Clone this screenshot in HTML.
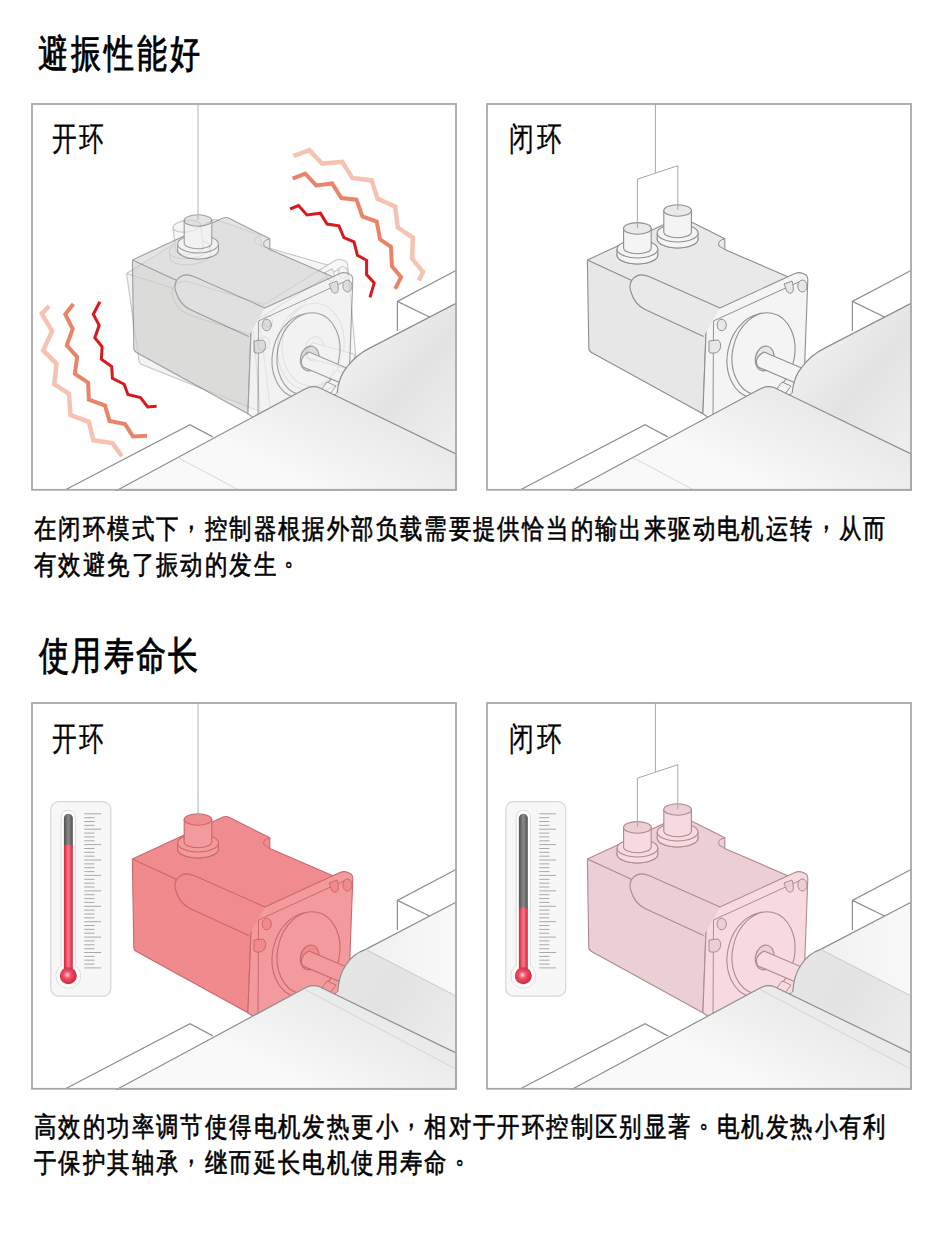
<!DOCTYPE html>
<html><head><meta charset="utf-8"><style>
html,body{margin:0;padding:0;background:#fff;width:951px;height:1243px;overflow:hidden;position:relative}
.t{position:absolute;font-family:"Liberation Sans",sans-serif;line-height:1;white-space:nowrap;color:#000;transform-origin:0 0}
svg{display:block}
</style></head><body>
<div class="t" style="left:38.0px;top:33.6px;font-size:39.2px;letter-spacing:3.7px;-webkit-text-stroke:0.9px #000;transform:scaleX(0.77)">避振性能好</div>
<div class="t" style="left:39.0px;top:637.3px;font-size:38.5px;letter-spacing:2.9px;-webkit-text-stroke:0.9px #000;transform:scaleX(0.77)">使用寿命长</div>
<svg style="position:absolute;left:31px;top:103px" width="426" height="388" viewBox="0 0 426 388"><defs>
<linearGradient id="gcyl" gradientUnits="userSpaceOnUse" x1="300" y1="250" x2="425" y2="330">
<stop offset="0" stop-color="#e6e6e6"/><stop offset="0.5" stop-color="#e3e3e3"/><stop offset="1" stop-color="#ececec"/></linearGradient>
<linearGradient id="gcyl2" gradientUnits="userSpaceOnUse" x1="335" y1="240" x2="425" y2="240">
<stop offset="0" stop-color="#f0f0f0"/><stop offset="1" stop-color="#f9f9f9"/></linearGradient>
<linearGradient id="gcyl3" gradientUnits="userSpaceOnUse" x1="310" y1="240" x2="425" y2="340">
<stop offset="0" stop-color="#f2f2f2"/><stop offset="0.5" stop-color="#e3e3e3"/><stop offset="1" stop-color="#eeeeee"/></linearGradient>
<linearGradient id="gcov" gradientUnits="userSpaceOnUse" x1="330" y1="300" x2="285" y2="388">
<stop offset="0" stop-color="#e9e9e9"/><stop offset="0.6" stop-color="#f2f2f2"/><stop offset="1" stop-color="#f9f9f9"/></linearGradient>
<linearGradient id="gtube" x1="0" y1="0" x2="1" y2="0">
<stop offset="0" stop-color="#505050"/><stop offset="0.5" stop-color="#8a8a8a"/><stop offset="1" stop-color="#505050"/></linearGradient>
<linearGradient id="gred" x1="0" y1="0" x2="1" y2="0">
<stop offset="0" stop-color="#d8203c"/><stop offset="0.5" stop-color="#f57a8a"/><stop offset="1" stop-color="#d8203c"/></linearGradient>
<radialGradient id="gbulb" cx="0.45" cy="0.45" r="0.6">
<stop offset="0" stop-color="#ffd0d8"/><stop offset="0.35" stop-color="#f0506a"/><stop offset="1" stop-color="#cc1f3a"/></radialGradient>
</defs>
<rect x="0" y="0" width="426" height="388" fill="#fff"/>
<path d="M34,387 L159,321.6 L181.8,333.9" fill="none" stroke="#8e8e8e" stroke-width="1.2"/>
<path d="M366.4,228 L366.4,198.4 L425,167.5" fill="none" stroke="#8e8e8e" stroke-width="1.2"/>
<path d="M366.4,198.4 L399,214.2" fill="none" stroke="#8e8e8e" stroke-width="1.2"/>
<path d="M399,214.2 L425,226" fill="none" stroke="#cfcfcf" stroke-width="1"/>
<g opacity="0.5" transform="translate(-24.7 27.5) rotate(-7.2)"><path d="M101.4,159 Q101.4,156.1 104,157.3 L220.6,212 L216.9,310.7 L105.5,249.5 Q102.8,248.1 102.8,245 Z" fill="#e9e9e9" stroke="#8f8f8f" stroke-width="1.1" stroke-linejoin="round"/>
<path d="M101.4,157 L192,115 Q195.1,113.8 198,115.2 L238.8,135.7 L238.8,146.6 L303.6,174.4 L220.6,212 Z" fill="#ededed" stroke="#8f8f8f" stroke-width="1.1" stroke-linejoin="round"/>
<path d="M238.8,136 Q231,137 233,143 L238.8,146.6" fill="none" stroke="#8f8f8f" stroke-width="0.9900000000000001"/>
<path d="M220.6,214 Q220.6,211 224,209.6 L309,170.5 Q313,168.8 317,170.5 L320,172 Q322,173.5 321.8,177 L317.7,287 L226,317 L216.9,310.7 Z" fill="#f3f3f3" stroke="#8f8f8f" stroke-width="1.1" stroke-linejoin="round"/>
<path d="M227,317 L227.5,218 L316,177.5" fill="none" stroke="#8f8f8f" stroke-width="0.9900000000000001"/>
<path d="M234,205 L163,173.6 C150,168 141,178 145,189 C147,196 152,203 159,206.4 L217.7,233.4" fill="#ededed" stroke="#8f8f8f" stroke-width="1.1"/>
<ellipse cx="316.4" cy="183" rx="4.6" ry="6" fill="#e9e9e9" stroke="#8f8f8f" stroke-width="0.9900000000000001"/>
<path d="M298,181 L306,178 Q309,188 305.5,190 Q301,191 300,186 Z" fill="#e9e9e9" stroke="#8f8f8f" stroke-width="0.9900000000000001"/>
<ellipse cx="235.7" cy="222" rx="4.6" ry="5.8" fill="#e9e9e9" stroke="#8f8f8f" stroke-width="0.9900000000000001"/>
<path d="M223,238 L232,237 Q236,240 234,246 Q232,251 225,250 L223,249 Z" fill="#e9e9e9" stroke="#8f8f8f" stroke-width="0.9900000000000001"/>
<ellipse cx="273.5" cy="253" rx="32" ry="42.6" transform="rotate(12 273.5 253)" fill="#f3f3f3" stroke="#8f8f8f" stroke-width="1.1"/>
<ellipse cx="277.5" cy="251" rx="31" ry="41.6" transform="rotate(12 277.5 251)" fill="#f3f3f3" stroke="#8f8f8f" stroke-width="1.1"/>
<ellipse cx="278.7" cy="255.5" rx="9.3" ry="12.5" transform="rotate(12 278.7 255.5)" fill="#e9e9e9" stroke="#8f8f8f" stroke-width="1.1"/>
<path d="M278,249 L318,266 L312,281 L272,264 Q267,255 278,249 Z" fill="#f3f3f3" stroke="#8f8f8f" stroke-width="1.1"/>
<path d="M296,279 L305,283 L299,291 L290,287 Z" fill="#f3f3f3" stroke="#8f8f8f" stroke-width="0.9900000000000001"/>
<ellipse cx="167" cy="147" rx="20.4" ry="9" fill="#ededed" stroke="#8f8f8f" stroke-width="1.1"/>
<path d="M146.6,141 L146.6,147 A20.4,9 0 0 0 187.4,147 L187.4,141 Z" fill="#f3f3f3" stroke="none"/>
<path d="M146.6,141 L146.6,147 A20.4,9 0 0 0 187.4,147 L187.4,141" fill="none" stroke="#8f8f8f" stroke-width="1.1"/>
<ellipse cx="167" cy="141" rx="20.4" ry="9" fill="#f3f3f3" stroke="#8f8f8f" stroke-width="1.1"/>
<path d="M153.2,117.5 L153.2,140 A13.8,5.8 0 0 0 180.8,140 L180.8,117.5 Z" fill="#f3f3f3" stroke="#8f8f8f" stroke-width="1.1"/>
<ellipse cx="167" cy="117.5" rx="13.8" ry="5.8" fill="#ededed" stroke="#8f8f8f" stroke-width="1.1"/></g>
<g opacity="0.65"><path d="M101.4,159 Q101.4,156.1 104,157.3 L220.6,212 L216.9,310.7 L105.5,249.5 Q102.8,248.1 102.8,245 Z" fill="#cfcfcd" stroke="#6f6f6f" stroke-width="1.1" stroke-linejoin="round"/>
<path d="M101.4,157 L192,115 Q195.1,113.8 198,115.2 L238.8,135.7 L238.8,146.6 L303.6,174.4 L220.6,212 Z" fill="#d6d6d6" stroke="#6f6f6f" stroke-width="1.1" stroke-linejoin="round"/>
<path d="M238.8,136 Q231,137 233,143 L238.8,146.6" fill="none" stroke="#6f6f6f" stroke-width="0.9900000000000001"/>
<path d="M220.6,214 Q220.6,211 224,209.6 L309,170.5 Q313,168.8 317,170.5 L320,172 Q322,173.5 321.8,177 L317.7,287 L226,317 L216.9,310.7 Z" fill="#f0f0f0" stroke="#6f6f6f" stroke-width="1.1" stroke-linejoin="round"/>
<path d="M227,317 L227.5,218 L316,177.5" fill="none" stroke="#6f6f6f" stroke-width="0.9900000000000001"/>
<path d="M234,205 L163,173.6 C150,168 141,178 145,189 C147,196 152,203 159,206.4 L217.7,233.4" fill="#d6d6d6" stroke="#6f6f6f" stroke-width="1.1"/>
<ellipse cx="316.4" cy="183" rx="4.6" ry="6" fill="#cfcfcd" stroke="#6f6f6f" stroke-width="0.9900000000000001"/>
<path d="M298,181 L306,178 Q309,188 305.5,190 Q301,191 300,186 Z" fill="#cfcfcd" stroke="#6f6f6f" stroke-width="0.9900000000000001"/>
<ellipse cx="235.7" cy="222" rx="4.6" ry="5.8" fill="#cfcfcd" stroke="#6f6f6f" stroke-width="0.9900000000000001"/>
<path d="M223,238 L232,237 Q236,240 234,246 Q232,251 225,250 L223,249 Z" fill="#cfcfcd" stroke="#6f6f6f" stroke-width="0.9900000000000001"/>
<ellipse cx="273.5" cy="253" rx="32" ry="42.6" transform="rotate(12 273.5 253)" fill="#f0f0f0" stroke="#6f6f6f" stroke-width="1.1"/>
<ellipse cx="277.5" cy="251" rx="31" ry="41.6" transform="rotate(12 277.5 251)" fill="#f0f0f0" stroke="#6f6f6f" stroke-width="1.1"/>
<ellipse cx="278.7" cy="255.5" rx="9.3" ry="12.5" transform="rotate(12 278.7 255.5)" fill="#cfcfcd" stroke="#6f6f6f" stroke-width="1.1"/>
<path d="M278,249 L318,266 L312,281 L272,264 Q267,255 278,249 Z" fill="#f0f0f0" stroke="#6f6f6f" stroke-width="1.1"/>
<path d="M296,279 L305,283 L299,291 L290,287 Z" fill="#f0f0f0" stroke="#6f6f6f" stroke-width="0.9900000000000001"/>
<ellipse cx="167" cy="147" rx="20.4" ry="9" fill="#d6d6d6" stroke="#6f6f6f" stroke-width="1.1"/>
<path d="M146.6,141 L146.6,147 A20.4,9 0 0 0 187.4,147 L187.4,141 Z" fill="#f0f0f0" stroke="none"/>
<path d="M146.6,141 L146.6,147 A20.4,9 0 0 0 187.4,147 L187.4,141" fill="none" stroke="#6f6f6f" stroke-width="1.1"/>
<ellipse cx="167" cy="141" rx="20.4" ry="9" fill="#f0f0f0" stroke="#6f6f6f" stroke-width="1.1"/>
<path d="M153.2,117.5 L153.2,140 A13.8,5.8 0 0 0 180.8,140 L180.8,117.5 Z" fill="#f0f0f0" stroke="#6f6f6f" stroke-width="1.1"/>
<ellipse cx="167" cy="117.5" rx="13.8" ry="5.8" fill="#d6d6d6" stroke="#6f6f6f" stroke-width="1.1"/></g>
<path d="M167,0 L167,117" fill="none" stroke="#b4b4b4" stroke-width="1"/>
<path d="M300,298 L306.1,290.2 C307,280 310,271 316,264 C322,256 330,249.5 338.2,245.4 L425,200.4 L425,360 Z" fill="url(#gcyl3)" stroke="none"/>
<path d="M306.1,290.2 C307,280 310,271 316,264 C322,256 330,249.5 338.2,245.4 L425,200.4" fill="none" stroke="#8e8e8e" stroke-width="1.2"/>
<path d="M84.7,388 L274,286 C279,283.3 284,283 289,285 L425,351 L425,388 Z" fill="url(#gcov)" stroke="#8e8e8e" stroke-width="1.2"/>
<path d="M147.6,354.9 L207.8,387" fill="none" stroke="#d8d8d8" stroke-width="1"/>
<path d="M262.5,53.0 L278.4,47.1 L291.1,60.6 L311.2,58.9 L321.3,74.9 L340.7,77.4 L346.6,95.9 L364.2,103.5 L366.8,124.5 L381.9,134.6 L381.1,155.6 L392.0,169.1 L387.8,177.5" fill="none" stroke="#f6c2b2" stroke-width="4.5" stroke-linejoin="miter" stroke-linecap="butt"/>
<path d="M261.6,75.7 L274.2,70.6 L285.2,82.4 L301.2,80.4 L310.4,95.0 L325.5,96.7 L331.4,113.5 L345.7,118.6 L349.1,136.3 L360.0,143.8 L360.9,163.2 L370.1,174.1 L364.2,185.9" fill="none" stroke="#ea8468" stroke-width="4" stroke-linejoin="miter" stroke-linecap="butt"/>
<path d="M259.1,106.0 L267.5,102.6 L275.9,111.9 L289.4,110.2 L296.1,121.1 L307.9,122.8 L312.9,134.6 L323.0,138.8 L326.4,152.2 L335.6,157.3 L335.6,171.6 L343.2,180.0 L339.0,194.3" fill="none" stroke="#d71a1f" stroke-width="3" stroke-linejoin="miter" stroke-linecap="butt"/>
<path d="M18.1,203.2 L10.8,210.6 L21.1,228.2 L12.2,247.4 L25.5,260.6 L23.3,281.2 L38.0,290.8 L39.5,312.1 L57.9,318.8 L62.3,337.2 L81.4,340.1 L91.0,353.3" fill="none" stroke="#f6c2b2" stroke-width="4.5" stroke-linejoin="miter" stroke-linecap="butt"/>
<path d="M42.4,201.0 L34.3,211.3 L41.7,226.0 L35.8,242.2 L46.1,254.0 L43.9,270.9 L57.1,279.7 L57.9,296.7 L74.1,302.6 L78.5,318.0 L94.0,321.0 L102.0,333.5 L116.0,332.7" fill="none" stroke="#ea8468" stroke-width="4" stroke-linejoin="miter" stroke-linecap="butt"/>
<path d="M68.9,198.8 L62.3,211.3 L68.2,222.3 L63.8,234.8 L71.1,243.7 L70.4,256.2 L80.7,263.5 L81.4,275.3 L93.2,281.2 L96.9,291.5 L109.4,294.5 L116.8,304.0 L125.6,303.3" fill="none" stroke="#d71a1f" stroke-width="3" stroke-linejoin="miter" stroke-linecap="butt"/>
<rect x="1" y="1" width="424" height="385.8" fill="none" stroke="#a8a8a8" stroke-width="1.8"/></svg>
<svg style="position:absolute;left:486px;top:103px" width="426" height="388" viewBox="0 0 426 388"><defs>
<linearGradient id="gcyl" gradientUnits="userSpaceOnUse" x1="300" y1="250" x2="425" y2="330">
<stop offset="0" stop-color="#e6e6e6"/><stop offset="0.5" stop-color="#e3e3e3"/><stop offset="1" stop-color="#ececec"/></linearGradient>
<linearGradient id="gcyl2" gradientUnits="userSpaceOnUse" x1="335" y1="240" x2="425" y2="240">
<stop offset="0" stop-color="#f0f0f0"/><stop offset="1" stop-color="#f9f9f9"/></linearGradient>
<linearGradient id="gcyl3" gradientUnits="userSpaceOnUse" x1="310" y1="240" x2="425" y2="340">
<stop offset="0" stop-color="#f2f2f2"/><stop offset="0.5" stop-color="#e3e3e3"/><stop offset="1" stop-color="#eeeeee"/></linearGradient>
<linearGradient id="gcov" gradientUnits="userSpaceOnUse" x1="330" y1="300" x2="285" y2="388">
<stop offset="0" stop-color="#e9e9e9"/><stop offset="0.6" stop-color="#f2f2f2"/><stop offset="1" stop-color="#f9f9f9"/></linearGradient>
<linearGradient id="gtube" x1="0" y1="0" x2="1" y2="0">
<stop offset="0" stop-color="#505050"/><stop offset="0.5" stop-color="#8a8a8a"/><stop offset="1" stop-color="#505050"/></linearGradient>
<linearGradient id="gred" x1="0" y1="0" x2="1" y2="0">
<stop offset="0" stop-color="#d8203c"/><stop offset="0.5" stop-color="#f57a8a"/><stop offset="1" stop-color="#d8203c"/></linearGradient>
<radialGradient id="gbulb" cx="0.45" cy="0.45" r="0.6">
<stop offset="0" stop-color="#ffd0d8"/><stop offset="0.35" stop-color="#f0506a"/><stop offset="1" stop-color="#cc1f3a"/></radialGradient>
</defs>
<rect x="0" y="0" width="426" height="388" fill="#fff"/>
<path d="M34,387 L159,321.6 L181.8,333.9" fill="none" stroke="#8e8e8e" stroke-width="1.2"/>
<path d="M366.4,228 L366.4,198.4 L425,167.5" fill="none" stroke="#8e8e8e" stroke-width="1.2"/>
<path d="M366.4,198.4 L399,214.2" fill="none" stroke="#8e8e8e" stroke-width="1.2"/>
<path d="M399,214.2 L425,226" fill="none" stroke="#cfcfcf" stroke-width="1"/>
<path d="M101.4,159 Q101.4,156.1 104,157.3 L220.6,212 L216.9,310.7 L105.5,249.5 Q102.8,248.1 102.8,245 Z" fill="#e7e7e7" stroke="#8e8e8e" stroke-width="1.1" stroke-linejoin="round"/>
<path d="M101.4,157 L192,115 Q195.1,113.8 198,115.2 L238.8,135.7 L238.8,146.6 L303.6,174.4 L220.6,212 Z" fill="#e9e9e9" stroke="#8e8e8e" stroke-width="1.1" stroke-linejoin="round"/>
<path d="M238.8,136 Q231,137 233,143 L238.8,146.6" fill="none" stroke="#8e8e8e" stroke-width="0.9900000000000001"/>
<path d="M220.6,214 Q220.6,211 224,209.6 L309,170.5 Q313,168.8 317,170.5 L320,172 Q322,173.5 321.8,177 L317.7,287 L226,317 L216.9,310.7 Z" fill="#f4f4f4" stroke="#8e8e8e" stroke-width="1.1" stroke-linejoin="round"/>
<path d="M227,317 L227.5,218 L316,177.5" fill="none" stroke="#8e8e8e" stroke-width="0.9900000000000001"/>
<path d="M234,205 L163,173.6 C150,168 141,178 145,189 C147,196 152,203 159,206.4 L217.7,233.4" fill="#e9e9e9" stroke="#8e8e8e" stroke-width="1.1"/>
<ellipse cx="316.4" cy="183" rx="4.6" ry="6" fill="#e7e7e7" stroke="#8e8e8e" stroke-width="0.9900000000000001"/>
<path d="M298,181 L306,178 Q309,188 305.5,190 Q301,191 300,186 Z" fill="#e7e7e7" stroke="#8e8e8e" stroke-width="0.9900000000000001"/>
<ellipse cx="235.7" cy="222" rx="4.6" ry="5.8" fill="#e7e7e7" stroke="#8e8e8e" stroke-width="0.9900000000000001"/>
<path d="M223,238 L232,237 Q236,240 234,246 Q232,251 225,250 L223,249 Z" fill="#e7e7e7" stroke="#8e8e8e" stroke-width="0.9900000000000001"/>
<ellipse cx="273.5" cy="253" rx="32" ry="42.6" transform="rotate(12 273.5 253)" fill="#f4f4f4" stroke="#8e8e8e" stroke-width="1.1"/>
<ellipse cx="277.5" cy="251" rx="31" ry="41.6" transform="rotate(12 277.5 251)" fill="#f4f4f4" stroke="#8e8e8e" stroke-width="1.1"/>
<ellipse cx="278.7" cy="255.5" rx="9.3" ry="12.5" transform="rotate(12 278.7 255.5)" fill="#e7e7e7" stroke="#8e8e8e" stroke-width="1.1"/>
<path d="M278,249 L318,266 L312,281 L272,264 Q267,255 278,249 Z" fill="#f4f4f4" stroke="#8e8e8e" stroke-width="1.1"/>
<path d="M296,279 L305,283 L299,291 L290,287 Z" fill="#f4f4f4" stroke="#8e8e8e" stroke-width="0.9900000000000001"/>
<ellipse cx="151.4" cy="152" rx="20.4" ry="9" fill="#e9e9e9" stroke="#8e8e8e" stroke-width="1.1"/>
<path d="M131.0,146 L131.0,152 A20.4,9 0 0 0 171.8,152 L171.8,146 Z" fill="#f4f4f4" stroke="none"/>
<path d="M131.0,146 L131.0,152 A20.4,9 0 0 0 171.8,152 L171.8,146" fill="none" stroke="#8e8e8e" stroke-width="1.1"/>
<ellipse cx="151.4" cy="146" rx="20.4" ry="9" fill="#f4f4f4" stroke="#8e8e8e" stroke-width="1.1"/>
<path d="M137.6,125.4 L137.6,145 A13.8,5.8 0 0 0 165.20000000000002,145 L165.20000000000002,125.4 Z" fill="#f4f4f4" stroke="#8e8e8e" stroke-width="1.1"/>
<ellipse cx="151.4" cy="125.4" rx="13.8" ry="5.8" fill="#e9e9e9" stroke="#8e8e8e" stroke-width="1.1"/>
<ellipse cx="191.6" cy="136" rx="20.4" ry="9" fill="#e9e9e9" stroke="#8e8e8e" stroke-width="1.1"/>
<path d="M171.2,130 L171.2,136 A20.4,9 0 0 0 212.0,136 L212.0,130 Z" fill="#f4f4f4" stroke="none"/>
<path d="M171.2,130 L171.2,136 A20.4,9 0 0 0 212.0,136 L212.0,130" fill="none" stroke="#8e8e8e" stroke-width="1.1"/>
<ellipse cx="191.6" cy="130" rx="20.4" ry="9" fill="#f4f4f4" stroke="#8e8e8e" stroke-width="1.1"/>
<path d="M177.79999999999998,107.5 L177.79999999999998,129 A13.8,5.8 0 0 0 205.4,129 L205.4,107.5 Z" fill="#f4f4f4" stroke="#8e8e8e" stroke-width="1.1"/>
<ellipse cx="191.6" cy="107.5" rx="13.8" ry="5.8" fill="#e9e9e9" stroke="#8e8e8e" stroke-width="1.1"/>
<path d="M169.4,0 L169.4,70 M151.4,125 L151.4,76.2 L191.8,62.7 L191.8,107" fill="none" stroke="#a8a8a8" stroke-width="1"/>
<path d="M300,298 L306.1,290.2 C307,280 310,271 316,264 C322,256 330,249.5 338.2,245.4 L425,200.4 L425,360 Z" fill="url(#gcyl3)" stroke="none"/>
<path d="M306.1,290.2 C307,280 310,271 316,264 C322,256 330,249.5 338.2,245.4 L425,200.4" fill="none" stroke="#8e8e8e" stroke-width="1.2"/>
<path d="M84.7,388 L274,286 C279,283.3 284,283 289,285 L425,351 L425,388 Z" fill="url(#gcov)" stroke="#8e8e8e" stroke-width="1.2"/>
<path d="M147.6,354.9 L207.8,387" fill="none" stroke="#d8d8d8" stroke-width="1"/>
<rect x="1" y="1" width="424" height="385.8" fill="none" stroke="#a8a8a8" stroke-width="1.8"/></svg>
<svg style="position:absolute;left:31px;top:702px" width="426" height="388" viewBox="0 0 426 388"><defs>
<linearGradient id="gcyl" gradientUnits="userSpaceOnUse" x1="300" y1="250" x2="425" y2="330">
<stop offset="0" stop-color="#e6e6e6"/><stop offset="0.5" stop-color="#e3e3e3"/><stop offset="1" stop-color="#ececec"/></linearGradient>
<linearGradient id="gcyl2" gradientUnits="userSpaceOnUse" x1="335" y1="240" x2="425" y2="240">
<stop offset="0" stop-color="#f0f0f0"/><stop offset="1" stop-color="#f9f9f9"/></linearGradient>
<linearGradient id="gcyl3" gradientUnits="userSpaceOnUse" x1="310" y1="240" x2="425" y2="340">
<stop offset="0" stop-color="#f2f2f2"/><stop offset="0.5" stop-color="#e3e3e3"/><stop offset="1" stop-color="#eeeeee"/></linearGradient>
<linearGradient id="gcov" gradientUnits="userSpaceOnUse" x1="330" y1="300" x2="285" y2="388">
<stop offset="0" stop-color="#e9e9e9"/><stop offset="0.6" stop-color="#f2f2f2"/><stop offset="1" stop-color="#f9f9f9"/></linearGradient>
<linearGradient id="gtube" x1="0" y1="0" x2="1" y2="0">
<stop offset="0" stop-color="#505050"/><stop offset="0.5" stop-color="#8a8a8a"/><stop offset="1" stop-color="#505050"/></linearGradient>
<linearGradient id="gred" x1="0" y1="0" x2="1" y2="0">
<stop offset="0" stop-color="#d8203c"/><stop offset="0.5" stop-color="#f57a8a"/><stop offset="1" stop-color="#d8203c"/></linearGradient>
<radialGradient id="gbulb" cx="0.45" cy="0.45" r="0.6">
<stop offset="0" stop-color="#ffd0d8"/><stop offset="0.35" stop-color="#f0506a"/><stop offset="1" stop-color="#cc1f3a"/></radialGradient>
</defs>
<rect x="0" y="0" width="426" height="388" fill="#fff"/>
<path d="M34,387 L159,321.6 L181.8,333.9" fill="none" stroke="#8e8e8e" stroke-width="1.2"/>
<path d="M366.4,228 L366.4,198.4 L425,167.5" fill="none" stroke="#8e8e8e" stroke-width="1.2"/>
<path d="M366.4,198.4 L399,214.2" fill="none" stroke="#8e8e8e" stroke-width="1.2"/>
<path d="M399,214.2 L425,226" fill="none" stroke="#cfcfcf" stroke-width="1"/>
<path d="M101.4,159 Q101.4,156.1 104,157.3 L220.6,212 L216.9,310.7 L105.5,249.5 Q102.8,248.1 102.8,245 Z" fill="#f08a8c" stroke="#c9686c" stroke-width="1.1" stroke-linejoin="round"/>
<path d="M101.4,157 L192,115 Q195.1,113.8 198,115.2 L238.8,135.7 L238.8,146.6 L303.6,174.4 L220.6,212 Z" fill="#f08c8f" stroke="#c9686c" stroke-width="1.1" stroke-linejoin="round"/>
<path d="M238.8,136 Q231,137 233,143 L238.8,146.6" fill="none" stroke="#c9686c" stroke-width="0.9900000000000001"/>
<path d="M220.6,214 Q220.6,211 224,209.6 L309,170.5 Q313,168.8 317,170.5 L320,172 Q322,173.5 321.8,177 L317.7,287 L226,317 L216.9,310.7 Z" fill="#f39a9d" stroke="#c9686c" stroke-width="1.1" stroke-linejoin="round"/>
<path d="M227,317 L227.5,218 L316,177.5" fill="none" stroke="#c9686c" stroke-width="0.9900000000000001"/>
<path d="M234,205 L163,173.6 C150,168 141,178 145,189 C147,196 152,203 159,206.4 L217.7,233.4" fill="#f08c8f" stroke="#c9686c" stroke-width="1.1"/>
<ellipse cx="316.4" cy="183" rx="4.6" ry="6" fill="#f08a8c" stroke="#c9686c" stroke-width="0.9900000000000001"/>
<path d="M298,181 L306,178 Q309,188 305.5,190 Q301,191 300,186 Z" fill="#f08a8c" stroke="#c9686c" stroke-width="0.9900000000000001"/>
<ellipse cx="235.7" cy="222" rx="4.6" ry="5.8" fill="#f08a8c" stroke="#c9686c" stroke-width="0.9900000000000001"/>
<path d="M223,238 L232,237 Q236,240 234,246 Q232,251 225,250 L223,249 Z" fill="#f08a8c" stroke="#c9686c" stroke-width="0.9900000000000001"/>
<ellipse cx="273.5" cy="253" rx="32" ry="42.6" transform="rotate(12 273.5 253)" fill="#f39a9d" stroke="#c9686c" stroke-width="1.1"/>
<ellipse cx="277.5" cy="251" rx="31" ry="41.6" transform="rotate(12 277.5 251)" fill="#f39a9d" stroke="#c9686c" stroke-width="1.1"/>
<ellipse cx="278.7" cy="255.5" rx="9.3" ry="12.5" transform="rotate(12 278.7 255.5)" fill="#f08a8c" stroke="#c9686c" stroke-width="1.1"/>
<path d="M278,249 L318,266 L312,281 L272,264 Q267,255 278,249 Z" fill="#f39a9d" stroke="#c9686c" stroke-width="1.1"/>
<path d="M296,279 L305,283 L299,291 L290,287 Z" fill="#f39a9d" stroke="#c9686c" stroke-width="0.9900000000000001"/>
<ellipse cx="167" cy="147" rx="20.4" ry="9" fill="#f08c8f" stroke="#c9686c" stroke-width="1.1"/>
<path d="M146.6,141 L146.6,147 A20.4,9 0 0 0 187.4,147 L187.4,141 Z" fill="#f39a9d" stroke="none"/>
<path d="M146.6,141 L146.6,147 A20.4,9 0 0 0 187.4,147 L187.4,141" fill="none" stroke="#c9686c" stroke-width="1.1"/>
<ellipse cx="167" cy="141" rx="20.4" ry="9" fill="#f39a9d" stroke="#c9686c" stroke-width="1.1"/>
<path d="M153.2,117.5 L153.2,140 A13.8,5.8 0 0 0 180.8,140 L180.8,117.5 Z" fill="#f39a9d" stroke="#c9686c" stroke-width="1.1"/>
<ellipse cx="167" cy="117.5" rx="13.8" ry="5.8" fill="#f08c8f" stroke="#c9686c" stroke-width="1.1"/>
<path d="M167,0 L167,117" fill="none" stroke="#b4b4b4" stroke-width="1"/>
<path d="M300,298 L306.7,290 C307.5,279 310,270 315,263 C320,255 327,250 334.7,247.4 L425,200.2 L425,360 Z" fill="url(#gcyl)" stroke="none"/>
<path d="M334.7,247.4 L425,200.2 L425,294.5 Z" fill="url(#gcyl2)" stroke="none"/>
<path d="M306.7,290 C307.5,279 310,270 315,263 C320,255 327,250 334.7,247.4 L425,200.2" fill="none" stroke="#8e8e8e" stroke-width="1.2"/>
<path d="M334.7,247.4 L425,294" fill="none" stroke="#c8c8c8" stroke-width="1"/>
<path d="M84.7,388 L274,286 C279,283.3 284,283 289,285 L425,351 L425,388 Z" fill="url(#gcov)" stroke="#8e8e8e" stroke-width="1.2"/>
<path d="M274,287.5 L425,367" fill="none" stroke="#d4d4d4" stroke-width="1"/>
<rect x="19.8" y="99.6" width="60" height="194.6" rx="8" fill="#f7f7f7" stroke="#d6d6d6" stroke-width="1.2"/>
<rect x="30.2" y="108.2" width="14.2" height="165" rx="7.1" fill="#fff" stroke="#d4d4d4" stroke-width="0.8"/>
<circle cx="37.3" cy="273.8" r="12.4" fill="#fff" stroke="#d4d4d4" stroke-width="0.8"/>
<rect x="31" y="258" width="12.6" height="10" fill="#fff"/>
<rect x="32.9" y="111.8" width="8.9" height="35.000000000000014" rx="4.45" fill="url(#gtube)"/>
<rect x="32.9" y="142.8" width="8.9" height="131.0" fill="url(#gred)"/>
<circle cx="37.3" cy="273.8" r="8.5" fill="url(#gbulb)"/>
<line x1="53.3" y1="111.8" x2="70.1" y2="111.8" stroke="#a8a8a8" stroke-width="1"/>
<line x1="53.3" y1="115.7" x2="63.5" y2="115.7" stroke="#a8a8a8" stroke-width="1"/>
<line x1="53.3" y1="119.5" x2="63.5" y2="119.5" stroke="#a8a8a8" stroke-width="1"/>
<line x1="53.3" y1="123.4" x2="63.5" y2="123.4" stroke="#a8a8a8" stroke-width="1"/>
<line x1="53.3" y1="127.2" x2="70.1" y2="127.2" stroke="#a8a8a8" stroke-width="1"/>
<line x1="53.3" y1="131.1" x2="63.5" y2="131.1" stroke="#a8a8a8" stroke-width="1"/>
<line x1="53.3" y1="134.9" x2="63.5" y2="134.9" stroke="#a8a8a8" stroke-width="1"/>
<line x1="53.3" y1="138.8" x2="63.5" y2="138.8" stroke="#a8a8a8" stroke-width="1"/>
<line x1="53.3" y1="142.6" x2="70.1" y2="142.6" stroke="#a8a8a8" stroke-width="1"/>
<line x1="53.3" y1="146.5" x2="63.5" y2="146.5" stroke="#a8a8a8" stroke-width="1"/>
<line x1="53.3" y1="150.3" x2="63.5" y2="150.3" stroke="#a8a8a8" stroke-width="1"/>
<line x1="53.3" y1="154.2" x2="63.5" y2="154.2" stroke="#a8a8a8" stroke-width="1"/>
<line x1="53.3" y1="158.0" x2="70.1" y2="158.0" stroke="#a8a8a8" stroke-width="1"/>
<line x1="53.3" y1="161.9" x2="63.5" y2="161.9" stroke="#a8a8a8" stroke-width="1"/>
<line x1="53.3" y1="165.7" x2="63.5" y2="165.7" stroke="#a8a8a8" stroke-width="1"/>
<line x1="53.3" y1="169.6" x2="63.5" y2="169.6" stroke="#a8a8a8" stroke-width="1"/>
<line x1="53.3" y1="173.4" x2="70.1" y2="173.4" stroke="#a8a8a8" stroke-width="1"/>
<line x1="53.3" y1="177.3" x2="63.5" y2="177.3" stroke="#a8a8a8" stroke-width="1"/>
<line x1="53.3" y1="181.2" x2="63.5" y2="181.2" stroke="#a8a8a8" stroke-width="1"/>
<line x1="53.3" y1="185.0" x2="63.5" y2="185.0" stroke="#a8a8a8" stroke-width="1"/>
<line x1="53.3" y1="188.9" x2="70.1" y2="188.9" stroke="#a8a8a8" stroke-width="1"/>
<line x1="53.3" y1="192.7" x2="63.5" y2="192.7" stroke="#a8a8a8" stroke-width="1"/>
<line x1="53.3" y1="196.6" x2="63.5" y2="196.6" stroke="#a8a8a8" stroke-width="1"/>
<line x1="53.3" y1="200.4" x2="63.5" y2="200.4" stroke="#a8a8a8" stroke-width="1"/>
<line x1="53.3" y1="204.3" x2="70.1" y2="204.3" stroke="#a8a8a8" stroke-width="1"/>
<line x1="53.3" y1="208.1" x2="63.5" y2="208.1" stroke="#a8a8a8" stroke-width="1"/>
<line x1="53.3" y1="212.0" x2="63.5" y2="212.0" stroke="#a8a8a8" stroke-width="1"/>
<line x1="53.3" y1="215.8" x2="63.5" y2="215.8" stroke="#a8a8a8" stroke-width="1"/>
<line x1="53.3" y1="219.7" x2="70.1" y2="219.7" stroke="#a8a8a8" stroke-width="1"/>
<line x1="53.3" y1="223.5" x2="63.5" y2="223.5" stroke="#a8a8a8" stroke-width="1"/>
<line x1="53.3" y1="227.4" x2="63.5" y2="227.4" stroke="#a8a8a8" stroke-width="1"/>
<line x1="53.3" y1="231.2" x2="63.5" y2="231.2" stroke="#a8a8a8" stroke-width="1"/>
<line x1="53.3" y1="235.1" x2="70.1" y2="235.1" stroke="#a8a8a8" stroke-width="1"/>
<line x1="53.3" y1="238.9" x2="63.5" y2="238.9" stroke="#a8a8a8" stroke-width="1"/>
<line x1="53.3" y1="242.8" x2="63.5" y2="242.8" stroke="#a8a8a8" stroke-width="1"/>
<line x1="53.3" y1="246.7" x2="63.5" y2="246.7" stroke="#a8a8a8" stroke-width="1"/>
<line x1="53.3" y1="250.5" x2="70.1" y2="250.5" stroke="#a8a8a8" stroke-width="1"/>
<line x1="53.3" y1="254.4" x2="63.5" y2="254.4" stroke="#a8a8a8" stroke-width="1"/>
<line x1="53.3" y1="258.2" x2="63.5" y2="258.2" stroke="#a8a8a8" stroke-width="1"/>
<line x1="53.3" y1="262.1" x2="63.5" y2="262.1" stroke="#a8a8a8" stroke-width="1"/>
<line x1="53.3" y1="265.9" x2="70.1" y2="265.9" stroke="#a8a8a8" stroke-width="1"/>
<rect x="1" y="1" width="424" height="385.8" fill="none" stroke="#a8a8a8" stroke-width="1.8"/></svg>
<svg style="position:absolute;left:486px;top:702px" width="426" height="388" viewBox="0 0 426 388"><defs>
<linearGradient id="gcyl" gradientUnits="userSpaceOnUse" x1="300" y1="250" x2="425" y2="330">
<stop offset="0" stop-color="#e6e6e6"/><stop offset="0.5" stop-color="#e3e3e3"/><stop offset="1" stop-color="#ececec"/></linearGradient>
<linearGradient id="gcyl2" gradientUnits="userSpaceOnUse" x1="335" y1="240" x2="425" y2="240">
<stop offset="0" stop-color="#f0f0f0"/><stop offset="1" stop-color="#f9f9f9"/></linearGradient>
<linearGradient id="gcyl3" gradientUnits="userSpaceOnUse" x1="310" y1="240" x2="425" y2="340">
<stop offset="0" stop-color="#f2f2f2"/><stop offset="0.5" stop-color="#e3e3e3"/><stop offset="1" stop-color="#eeeeee"/></linearGradient>
<linearGradient id="gcov" gradientUnits="userSpaceOnUse" x1="330" y1="300" x2="285" y2="388">
<stop offset="0" stop-color="#e9e9e9"/><stop offset="0.6" stop-color="#f2f2f2"/><stop offset="1" stop-color="#f9f9f9"/></linearGradient>
<linearGradient id="gtube" x1="0" y1="0" x2="1" y2="0">
<stop offset="0" stop-color="#505050"/><stop offset="0.5" stop-color="#8a8a8a"/><stop offset="1" stop-color="#505050"/></linearGradient>
<linearGradient id="gred" x1="0" y1="0" x2="1" y2="0">
<stop offset="0" stop-color="#d8203c"/><stop offset="0.5" stop-color="#f57a8a"/><stop offset="1" stop-color="#d8203c"/></linearGradient>
<radialGradient id="gbulb" cx="0.45" cy="0.45" r="0.6">
<stop offset="0" stop-color="#ffd0d8"/><stop offset="0.35" stop-color="#f0506a"/><stop offset="1" stop-color="#cc1f3a"/></radialGradient>
</defs>
<rect x="0" y="0" width="426" height="388" fill="#fff"/>
<path d="M34,387 L159,321.6 L181.8,333.9" fill="none" stroke="#8e8e8e" stroke-width="1.2"/>
<path d="M366.4,228 L366.4,198.4 L425,167.5" fill="none" stroke="#8e8e8e" stroke-width="1.2"/>
<path d="M366.4,198.4 L399,214.2" fill="none" stroke="#8e8e8e" stroke-width="1.2"/>
<path d="M399,214.2 L425,226" fill="none" stroke="#cfcfcf" stroke-width="1"/>
<path d="M101.4,159 Q101.4,156.1 104,157.3 L220.6,212 L216.9,310.7 L105.5,249.5 Q102.8,248.1 102.8,245 Z" fill="#eacfd4" stroke="#ad8a90" stroke-width="1.1" stroke-linejoin="round"/>
<path d="M101.4,157 L192,115 Q195.1,113.8 198,115.2 L238.8,135.7 L238.8,146.6 L303.6,174.4 L220.6,212 Z" fill="#eccfd4" stroke="#ad8a90" stroke-width="1.1" stroke-linejoin="round"/>
<path d="M238.8,136 Q231,137 233,143 L238.8,146.6" fill="none" stroke="#ad8a90" stroke-width="0.9900000000000001"/>
<path d="M220.6,214 Q220.6,211 224,209.6 L309,170.5 Q313,168.8 317,170.5 L320,172 Q322,173.5 321.8,177 L317.7,287 L226,317 L216.9,310.7 Z" fill="#f6dadf" stroke="#ad8a90" stroke-width="1.1" stroke-linejoin="round"/>
<path d="M227,317 L227.5,218 L316,177.5" fill="none" stroke="#ad8a90" stroke-width="0.9900000000000001"/>
<path d="M234,205 L163,173.6 C150,168 141,178 145,189 C147,196 152,203 159,206.4 L217.7,233.4" fill="#eccfd4" stroke="#ad8a90" stroke-width="1.1"/>
<ellipse cx="316.4" cy="183" rx="4.6" ry="6" fill="#eacfd4" stroke="#ad8a90" stroke-width="0.9900000000000001"/>
<path d="M298,181 L306,178 Q309,188 305.5,190 Q301,191 300,186 Z" fill="#eacfd4" stroke="#ad8a90" stroke-width="0.9900000000000001"/>
<ellipse cx="235.7" cy="222" rx="4.6" ry="5.8" fill="#eacfd4" stroke="#ad8a90" stroke-width="0.9900000000000001"/>
<path d="M223,238 L232,237 Q236,240 234,246 Q232,251 225,250 L223,249 Z" fill="#eacfd4" stroke="#ad8a90" stroke-width="0.9900000000000001"/>
<ellipse cx="273.5" cy="253" rx="32" ry="42.6" transform="rotate(12 273.5 253)" fill="#f6dadf" stroke="#ad8a90" stroke-width="1.1"/>
<ellipse cx="277.5" cy="251" rx="31" ry="41.6" transform="rotate(12 277.5 251)" fill="#f6dadf" stroke="#ad8a90" stroke-width="1.1"/>
<ellipse cx="278.7" cy="255.5" rx="9.3" ry="12.5" transform="rotate(12 278.7 255.5)" fill="#eacfd4" stroke="#ad8a90" stroke-width="1.1"/>
<path d="M278,249 L318,266 L312,281 L272,264 Q267,255 278,249 Z" fill="#f6dadf" stroke="#ad8a90" stroke-width="1.1"/>
<path d="M296,279 L305,283 L299,291 L290,287 Z" fill="#f6dadf" stroke="#ad8a90" stroke-width="0.9900000000000001"/>
<ellipse cx="151.4" cy="152" rx="20.4" ry="9" fill="#eccfd4" stroke="#ad8a90" stroke-width="1.1"/>
<path d="M131.0,146 L131.0,152 A20.4,9 0 0 0 171.8,152 L171.8,146 Z" fill="#f6dadf" stroke="none"/>
<path d="M131.0,146 L131.0,152 A20.4,9 0 0 0 171.8,152 L171.8,146" fill="none" stroke="#ad8a90" stroke-width="1.1"/>
<ellipse cx="151.4" cy="146" rx="20.4" ry="9" fill="#f6dadf" stroke="#ad8a90" stroke-width="1.1"/>
<path d="M137.6,125.4 L137.6,145 A13.8,5.8 0 0 0 165.20000000000002,145 L165.20000000000002,125.4 Z" fill="#f6dadf" stroke="#ad8a90" stroke-width="1.1"/>
<ellipse cx="151.4" cy="125.4" rx="13.8" ry="5.8" fill="#eccfd4" stroke="#ad8a90" stroke-width="1.1"/>
<ellipse cx="191.6" cy="136" rx="20.4" ry="9" fill="#eccfd4" stroke="#ad8a90" stroke-width="1.1"/>
<path d="M171.2,130 L171.2,136 A20.4,9 0 0 0 212.0,136 L212.0,130 Z" fill="#f6dadf" stroke="none"/>
<path d="M171.2,130 L171.2,136 A20.4,9 0 0 0 212.0,136 L212.0,130" fill="none" stroke="#ad8a90" stroke-width="1.1"/>
<ellipse cx="191.6" cy="130" rx="20.4" ry="9" fill="#f6dadf" stroke="#ad8a90" stroke-width="1.1"/>
<path d="M177.79999999999998,107.5 L177.79999999999998,129 A13.8,5.8 0 0 0 205.4,129 L205.4,107.5 Z" fill="#f6dadf" stroke="#ad8a90" stroke-width="1.1"/>
<ellipse cx="191.6" cy="107.5" rx="13.8" ry="5.8" fill="#eccfd4" stroke="#ad8a90" stroke-width="1.1"/>
<path d="M169.4,0 L169.4,70 M151.4,125 L151.4,76.2 L191.8,62.7 L191.8,107" fill="none" stroke="#a8a8a8" stroke-width="1"/>
<path d="M300,298 L306.7,290 C307.5,279 310,270 315,263 C320,255 327,250 334.7,247.4 L425,200.2 L425,360 Z" fill="url(#gcyl)" stroke="none"/>
<path d="M334.7,247.4 L425,200.2 L425,294.5 Z" fill="url(#gcyl2)" stroke="none"/>
<path d="M306.7,290 C307.5,279 310,270 315,263 C320,255 327,250 334.7,247.4 L425,200.2" fill="none" stroke="#8e8e8e" stroke-width="1.2"/>
<path d="M334.7,247.4 L425,294" fill="none" stroke="#c8c8c8" stroke-width="1"/>
<path d="M84.7,388 L274,286 C279,283.3 284,283 289,285 L425,351 L425,388 Z" fill="url(#gcov)" stroke="#8e8e8e" stroke-width="1.2"/>
<path d="M274,287.5 L425,367" fill="none" stroke="#d4d4d4" stroke-width="1"/>
<rect x="19.8" y="99.6" width="60" height="194.6" rx="8" fill="#f7f7f7" stroke="#d6d6d6" stroke-width="1.2"/>
<rect x="30.2" y="108.2" width="14.2" height="165" rx="7.1" fill="#fff" stroke="#d4d4d4" stroke-width="0.8"/>
<circle cx="37.3" cy="273.8" r="12.4" fill="#fff" stroke="#d4d4d4" stroke-width="0.8"/>
<rect x="31" y="258" width="12.6" height="10" fill="#fff"/>
<rect x="32.9" y="111.8" width="8.9" height="97.8" rx="4.45" fill="url(#gtube)"/>
<rect x="32.9" y="205.6" width="8.9" height="68.20000000000002" fill="url(#gred)"/>
<circle cx="37.3" cy="273.8" r="8.5" fill="url(#gbulb)"/>
<line x1="53.3" y1="111.8" x2="70.1" y2="111.8" stroke="#a8a8a8" stroke-width="1"/>
<line x1="53.3" y1="115.7" x2="63.5" y2="115.7" stroke="#a8a8a8" stroke-width="1"/>
<line x1="53.3" y1="119.5" x2="63.5" y2="119.5" stroke="#a8a8a8" stroke-width="1"/>
<line x1="53.3" y1="123.4" x2="63.5" y2="123.4" stroke="#a8a8a8" stroke-width="1"/>
<line x1="53.3" y1="127.2" x2="70.1" y2="127.2" stroke="#a8a8a8" stroke-width="1"/>
<line x1="53.3" y1="131.1" x2="63.5" y2="131.1" stroke="#a8a8a8" stroke-width="1"/>
<line x1="53.3" y1="134.9" x2="63.5" y2="134.9" stroke="#a8a8a8" stroke-width="1"/>
<line x1="53.3" y1="138.8" x2="63.5" y2="138.8" stroke="#a8a8a8" stroke-width="1"/>
<line x1="53.3" y1="142.6" x2="70.1" y2="142.6" stroke="#a8a8a8" stroke-width="1"/>
<line x1="53.3" y1="146.5" x2="63.5" y2="146.5" stroke="#a8a8a8" stroke-width="1"/>
<line x1="53.3" y1="150.3" x2="63.5" y2="150.3" stroke="#a8a8a8" stroke-width="1"/>
<line x1="53.3" y1="154.2" x2="63.5" y2="154.2" stroke="#a8a8a8" stroke-width="1"/>
<line x1="53.3" y1="158.0" x2="70.1" y2="158.0" stroke="#a8a8a8" stroke-width="1"/>
<line x1="53.3" y1="161.9" x2="63.5" y2="161.9" stroke="#a8a8a8" stroke-width="1"/>
<line x1="53.3" y1="165.7" x2="63.5" y2="165.7" stroke="#a8a8a8" stroke-width="1"/>
<line x1="53.3" y1="169.6" x2="63.5" y2="169.6" stroke="#a8a8a8" stroke-width="1"/>
<line x1="53.3" y1="173.4" x2="70.1" y2="173.4" stroke="#a8a8a8" stroke-width="1"/>
<line x1="53.3" y1="177.3" x2="63.5" y2="177.3" stroke="#a8a8a8" stroke-width="1"/>
<line x1="53.3" y1="181.2" x2="63.5" y2="181.2" stroke="#a8a8a8" stroke-width="1"/>
<line x1="53.3" y1="185.0" x2="63.5" y2="185.0" stroke="#a8a8a8" stroke-width="1"/>
<line x1="53.3" y1="188.9" x2="70.1" y2="188.9" stroke="#a8a8a8" stroke-width="1"/>
<line x1="53.3" y1="192.7" x2="63.5" y2="192.7" stroke="#a8a8a8" stroke-width="1"/>
<line x1="53.3" y1="196.6" x2="63.5" y2="196.6" stroke="#a8a8a8" stroke-width="1"/>
<line x1="53.3" y1="200.4" x2="63.5" y2="200.4" stroke="#a8a8a8" stroke-width="1"/>
<line x1="53.3" y1="204.3" x2="70.1" y2="204.3" stroke="#a8a8a8" stroke-width="1"/>
<line x1="53.3" y1="208.1" x2="63.5" y2="208.1" stroke="#a8a8a8" stroke-width="1"/>
<line x1="53.3" y1="212.0" x2="63.5" y2="212.0" stroke="#a8a8a8" stroke-width="1"/>
<line x1="53.3" y1="215.8" x2="63.5" y2="215.8" stroke="#a8a8a8" stroke-width="1"/>
<line x1="53.3" y1="219.7" x2="70.1" y2="219.7" stroke="#a8a8a8" stroke-width="1"/>
<line x1="53.3" y1="223.5" x2="63.5" y2="223.5" stroke="#a8a8a8" stroke-width="1"/>
<line x1="53.3" y1="227.4" x2="63.5" y2="227.4" stroke="#a8a8a8" stroke-width="1"/>
<line x1="53.3" y1="231.2" x2="63.5" y2="231.2" stroke="#a8a8a8" stroke-width="1"/>
<line x1="53.3" y1="235.1" x2="70.1" y2="235.1" stroke="#a8a8a8" stroke-width="1"/>
<line x1="53.3" y1="238.9" x2="63.5" y2="238.9" stroke="#a8a8a8" stroke-width="1"/>
<line x1="53.3" y1="242.8" x2="63.5" y2="242.8" stroke="#a8a8a8" stroke-width="1"/>
<line x1="53.3" y1="246.7" x2="63.5" y2="246.7" stroke="#a8a8a8" stroke-width="1"/>
<line x1="53.3" y1="250.5" x2="70.1" y2="250.5" stroke="#a8a8a8" stroke-width="1"/>
<line x1="53.3" y1="254.4" x2="63.5" y2="254.4" stroke="#a8a8a8" stroke-width="1"/>
<line x1="53.3" y1="258.2" x2="63.5" y2="258.2" stroke="#a8a8a8" stroke-width="1"/>
<line x1="53.3" y1="262.1" x2="63.5" y2="262.1" stroke="#a8a8a8" stroke-width="1"/>
<line x1="53.3" y1="265.9" x2="70.1" y2="265.9" stroke="#a8a8a8" stroke-width="1"/>
<rect x="1" y="1" width="424" height="385.8" fill="none" stroke="#a8a8a8" stroke-width="1.8"/></svg>
<div class="t" style="left:52.0px;top:122.2px;font-size:33.1px;letter-spacing:2.77px;-webkit-text-stroke:0.3px #000;transform:scaleX(0.75)">开环</div>
<div class="t" style="left:509.4px;top:122.7px;font-size:32.7px;letter-spacing:4.5px;-webkit-text-stroke:0.3px #000;transform:scaleX(0.75)">闭环</div>
<div class="t" style="left:52.0px;top:722.2px;font-size:33.1px;letter-spacing:2.77px;-webkit-text-stroke:0.3px #000;transform:scaleX(0.75)">开环</div>
<div class="t" style="left:509.4px;top:722.7px;font-size:32.7px;letter-spacing:4.5px;-webkit-text-stroke:0.3px #000;transform:scaleX(0.75)">闭环</div>
<div class="t" style="left:34.4px;top:516.3px;font-size:26.5px;letter-spacing:2.39px;-webkit-text-stroke:0.6px #000;transform:scaleX(0.83)">在闭环模式下<span style="display:inline-block;transform:translate(0,-0.34em)">，</span>控制器根据外部负载需要提供恰当的输出来驱动电机运转<span style="display:inline-block;transform:translate(0,-0.34em)">，</span>从而</div>
<div class="t" style="left:34.4px;top:552.4px;font-size:26.5px;letter-spacing:2.39px;-webkit-text-stroke:0.6px #000;transform:scaleX(0.83)">有效避免了振动的发生<span style="display:inline-block;transform:translate(0.295em,-0.34em)">。</span></div>
<div class="t" style="left:33.8px;top:1113.5px;font-size:26.5px;letter-spacing:2.39px;-webkit-text-stroke:0.6px #000;transform:scaleX(0.83)">高效的功率调节使得电机发热更小<span style="display:inline-block;transform:translate(0,-0.34em)">，</span>相对于开环控制区别显著<span style="display:inline-block;transform:translate(0.295em,-0.34em)">。</span>电机发热小有利</div>
<div class="t" style="left:34.4px;top:1150.3px;font-size:26.5px;letter-spacing:2.39px;-webkit-text-stroke:0.6px #000;transform:scaleX(0.83)">于保护其轴承<span style="display:inline-block;transform:translate(0,-0.34em)">，</span>继而延长电机使用寿命<span style="display:inline-block;transform:translate(0.295em,-0.34em)">。</span></div>
</body></html>
